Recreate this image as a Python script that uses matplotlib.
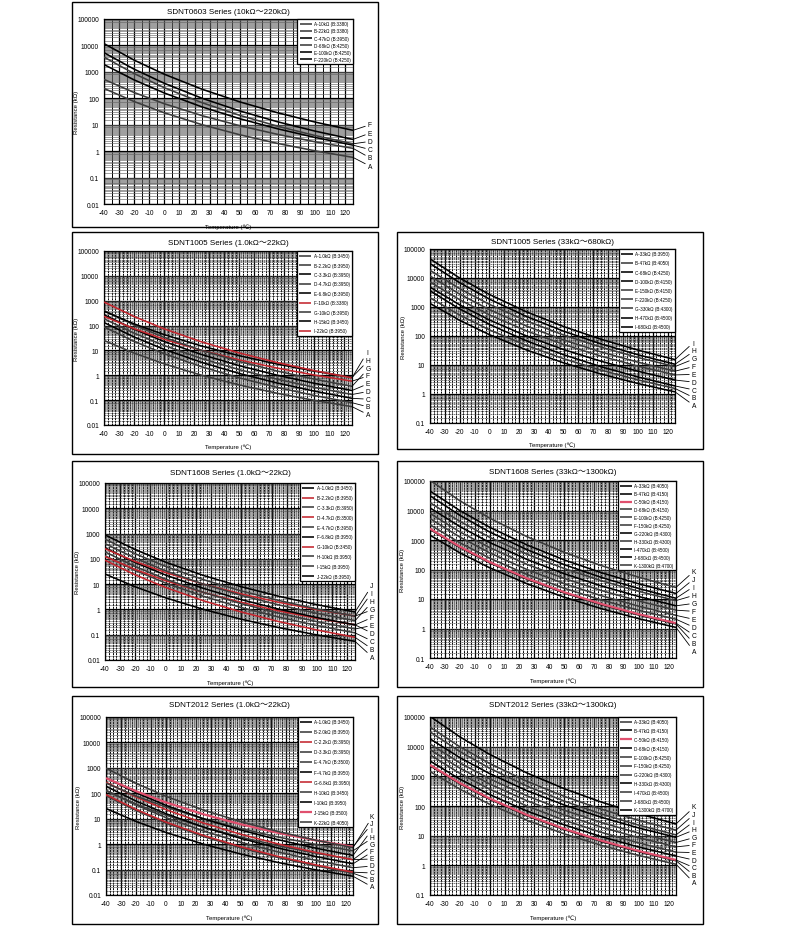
import numpy as np
import matplotlib
matplotlib.use('Agg')
import matplotlib.pyplot as plt
from matplotlib.ticker import FixedLocator, LogLocator, FuncFormatter, MultipleLocator, NullFormatter
from matplotlib.patches import Rectangle

plt.rcParams['font.family'] = ['Liberation Sans', 'DejaVu Sans', 'Noto Sans CJK SC']
plt.rcParams['axes.unicode_minus'] = False

# ---------------- data ----------------
TEMPS = [-40, -20, 0, 25, 50, 75, 100, 125]
# R/R25 ratio tables per B constant
RT_3380 = [23.58, 7.502, 2.822, 1.0, 0.4161, 0.1963, 0.1024, 0.0580]
RT_3450 = [25.18, 7.822, 2.884, 1.0, 0.4086, 0.1898, 0.09771, 0.05468]
RT_3500 = [26.38, 8.059, 2.928, 1.0, 0.4033, 0.1853, 0.09447, 0.05242]
RT_3950 = [40.18, 10.54, 3.362, 1.0, 0.3588, 0.1492, 0.06976, 0.03588]
RT_4050 = [44.12, 11.19, 3.467, 1.0, 0.3496, 0.1422, 0.06521, 0.03298]
RT_4150 = [48.45, 11.87, 3.575, 1.0, 0.3407, 0.1355, 0.06096, 0.03032]
RT_4250 = [53.20, 12.60, 3.686, 1.0, 0.3319, 0.1291, 0.05697, 0.02787]
RT_4300 = [55.75, 12.98, 3.743, 1.0, 0.3277, 0.1260, 0.05509, 0.02672]
RT_4500 = [67.21, 14.63, 3.981, 1.0, 0.3111, 0.1144, 0.04814, 0.02258]
RT_4700 = [81.03, 16.48, 4.233, 1.0, 0.2953, 0.1039, 0.04207, 0.01908]
RT = {3380: RT_3380, 3450: RT_3450, 3500: RT_3500, 3950: RT_3950, 4050: RT_4050,
      4150: RT_4150, 4250: RT_4250, 4300: RT_4300, 4500: RT_4500, 4700: RT_4700}

X_TICKS = list(range(-40, 121, 10))

P1_TITLE = "SDNT0603 Series (10kΩ～220kΩ)"
P1_NAMES = ["A-10kΩ (B:3380)", "B-22kΩ (B:3380)", "C-47kΩ (B:3950)", "D-68kΩ (B:4250)",
            "E-100kΩ (B:4250)", "F-220kΩ (B:4250)"]
P1_R25 = [10, 22, 47, 68, 100, 220]
P1_B = [3380, 3380, 3950, 4250, 4250, 4250]

P2_TITLE = "SDNT1005 Series (1.0kΩ～22kΩ)"
P2_NAMES = ["A-1.0kΩ (B:3450)", "B-2.2kΩ (B:3950)", "C-3.3kΩ (B:3950)", "D-4.7kΩ (B:3950)",
            "E-6.8kΩ (B:3950)", "F-10kΩ (B:3380)", "G-10kΩ (B:3950)", "H-15kΩ (B:3450)",
            "I-22kΩ (B:3950)"]
P2_R25 = [1.0, 2.2, 3.3, 4.7, 6.8, 10, 10, 15, 22]
P2_B = [3450, 3950, 3950, 3950, 3950, 3380, 3950, 3450, 3950]

P3_TITLE = "SDNT1005 Series (33kΩ～680kΩ)"
P3_NAMES = ["A-33kΩ (B:3950)", "B-47kΩ (B:4050)", "C-68kΩ (B:4250)", "D-100kΩ (B:4150)",
            "E-150kΩ (B:4150)", "F-220kΩ (B:4250)", "G-330kΩ (B:4300)", "H-470kΩ (B:4500)",
            "I-680kΩ (B:4500)"]
P3_R25 = [33, 47, 68, 100, 150, 220, 330, 470, 680]
P3_B = [3950, 4050, 4250, 4150, 4150, 4250, 4300, 4500, 4500]

P4_TITLE = "SDNT1608 Series (1.0kΩ～22kΩ)"
P4_NAMES = ["A-1.0kΩ (B:3450)", "B-2.2kΩ (B:3950)", "C-3.3kΩ (B:3950)", "D-4.7kΩ (B:3500)",
            "E-4.7kΩ (B:3950)", "F-6.8kΩ (B:3950)", "G-10kΩ (B:3450)", "H-10kΩ (B:3950)",
            "I-15kΩ (B:3950)", "J-22kΩ (B:3950)"]
P4_R25 = [1.0, 2.2, 3.3, 4.7, 4.7, 6.8, 10, 10, 15, 22]
P4_B = [3450, 3950, 3950, 3500, 3950, 3950, 3450, 3950, 3950, 3950]

P5_TITLE = "SDNT1608 Series (33kΩ～1300kΩ)"
P5_NAMES = ["A-33kΩ (B:4050)", "B-47kΩ (B:4150)", "C-50kΩ (B:4150)", "D-68kΩ (B:4150)",
            "E-100kΩ (B:4250)", "F-150kΩ (B:4250)", "G-220kΩ (B:4300)", "H-330kΩ (B:4300)",
            "I-470kΩ (B:4500)", "J-680kΩ (B:4500)", "K-1300kΩ (B:4700)"]
P5_R25 = [33, 47, 50, 68, 100, 150, 220, 330, 470, 680, 1300]
P5_B = [4050, 4150, 4150, 4150, 4250, 4250, 4300, 4300, 4500, 4500, 4700]

P6_TITLE = "SDNT2012 Series (1.0kΩ～22kΩ)"
P6_NAMES = ["A-1.0kΩ (B:3450)", "B-2.0kΩ (B:3950)", "C-2.2kΩ (B:3950)", "D-3.3kΩ (B:3950)",
            "E-4.7kΩ (B:3500)", "F-4.7kΩ (B:3950)", "G-6.8kΩ (B:3950)", "H-10kΩ (B:3450)",
            "I-10kΩ (B:3950)", "J-15kΩ (B:3500)", "K-22kΩ (B:4050)"]
P6_R25 = [1.0, 2.0, 2.2, 3.3, 4.7, 4.7, 6.8, 10, 10, 15, 22]
P6_B = [3450, 3950, 3950, 3950, 3500, 3950, 3950, 3450, 3950, 3500, 4050]

P7_TITLE = "SDNT2012 Series (33kΩ～1300kΩ)"
P7_NAMES = P5_NAMES
P7_R25 = P5_R25
P7_B = P5_B

# ---------------- styles ----------------
K = 'k'
G = '#3c3c3c'
R = '#c4262e'
PK = '#e0506e'
P1_COL = [G, G, K, G, K, K]
P2_COL = [G, G, K, G, K, R, G, K, R]
P3_COL = [K, G, K, K, G, G, G, K, K]
P4_COL = [K, R, G, R, G, K, R, G, G, K]
P5_COL = [K, K, PK, G, G, G, K, G, K, K, G]
P6_COL = [K, G, R, G, G, K, R, G, K, PK, G]
P7_COL = [G, K, PK, K, G, G, G, K, G, G, K]

W, H = 787, 928
fig = plt.figure(figsize=(W / 100, H / 100), dpi=100)
fig.patch.set_facecolor('white')


def fx(p):
    return p / W


def fy(p):
    return 1 - p / H


def fmt(v, pos):
    s = f"{v:.10f}".rstrip('0').rstrip('.')
    return s


def draw_panel(frame, box, title, title_y, names, r25, bs, cols, ylo,
               let_x, let_top, let_bot, lab_sp, dense):
    fl, ft, fr, fb = frame
    fig.add_artist(Rectangle((fx(fl), fy(fb)), (fr - fl) / W, (fb - ft) / H,
                             transform=fig.transFigure, fill=False, ec='k', lw=1.0))
    l, t, r, b = box
    ax = fig.add_axes([fx(l), fy(b), (r - l) / W, (b - t) / H])
    ax.set_yscale('log')
    ax.set_xlim(-40, 125)
    ax.set_ylim(ylo, 100000)
    ax.set_axisbelow(True)
    ends = []
    for name, rr, bb, c in zip(names, r25, bs, cols):
        vals = [rr * q for q in RT[bb]]
        lw = 1.6 if c == PK else 1.15
        ax.plot(TEMPS, vals, color=c, lw=lw, label=name, zorder=3, solid_capstyle='butt')
        ends.append(vals[-1])
    ax.xaxis.set_major_locator(FixedLocator(X_TICKS))
    ax.xaxis.set_minor_locator(MultipleLocator(2.5 if dense else 5))
    decades = [10.0 ** e for e in range(int(round(np.log10(ylo))), 6)]
    ax.yaxis.set_major_locator(FixedLocator(decades))
    ax.yaxis.set_major_formatter(FuncFormatter(fmt))
    ax.yaxis.set_minor_locator(LogLocator(base=10, subs=np.arange(1.5, 10, 0.5), numticks=200))
    ax.yaxis.set_minor_formatter(NullFormatter())
    ax.grid(which='major', color='k', lw=0.9)
    if dense:
        ax.grid(which='minor', axis='x', color='k', lw=0.7, ls=(0, (2.0, 0.8)))
        ax.grid(which='minor', axis='y', color='#444444', lw=0.5, ls=(0, (2.0, 0.8)))
    else:
        ax.grid(which='minor', axis='x', color='k', lw=0.7)
        ax.grid(which='minor', axis='y', color='#666666', lw=0.45)
    ax.tick_params(which='both', length=0, labelsize=4.8, pad=3.5)
    for s in ax.spines.values():
        s.set_linewidth(0.9)
    ax.set_xlabel("Temperature (℃)", fontsize=4.3)
    ax.set_ylabel("Resistance (kΩ)", fontsize=4.3)
    ax.yaxis.set_label_coords(-0.1, 0.5)
    ax.xaxis.set_label_coords(0.5, -0.108)
    fig.text((fx(l) + fx(r)) / 2, fy(title_y), title, ha='center', va='center', fontsize=5.8)
    leg = ax.legend(loc='upper right', bbox_to_anchor=(1.0, 1.0), borderaxespad=0.0,
                    fontsize=3.3, handlelength=2.6, handletextpad=0.5, borderpad=0.5,
                    labelspacing=lab_sp, fancybox=False, framealpha=1.0, edgecolor='k')
    leg.get_frame().set_linewidth(0.9)
    leg.set_zorder(5)
    n = len(names)
    for i, (name, v) in enumerate(zip(names, ends)):
        ly = let_bot - i * (let_bot - let_top) / (n - 1)
        ax.annotate(name[0], xy=(125, v), xycoords='data',
                    xytext=(fx(let_x), fy(ly)), textcoords='figure fraction',
                    fontsize=4.8, ha='left', va='center',
                    arrowprops=dict(arrowstyle='-', color='k', lw=0.6, shrinkA=0, shrinkB=0),
                    annotation_clip=False)
    return ax


draw_panel((72, 3, 378, 228), (104, 20, 353, 205), P1_TITLE, 13,
           P1_NAMES, P1_R25, P1_B, P1_COL, 0.01, 368, 125.7, 167.3, 0.46, False)
draw_panel((72, 233, 378, 455), (104, 252, 352, 426), P2_TITLE, 243.7,
           P2_NAMES, P2_R25, P2_B, P2_COL, 0.01, 366, 353.7, 415.7, 0.96, True)
draw_panel((397, 233, 703, 450), (430, 250, 675, 424), P3_TITLE, 243,
           P3_NAMES, P3_R25, P3_B, P3_COL, 0.1, 692, 344, 406.7, 0.9, True)
draw_panel((72, 462, 378, 688), (105, 484, 355, 661), P4_TITLE, 473.7,
           P4_NAMES, P4_R25, P4_B, P4_COL, 0.01, 370, 587, 658, 1.05, True)
draw_panel((397, 462, 703, 688), (430, 482, 676, 659), P5_TITLE, 472.7,
           P5_NAMES, P5_R25, P5_B, P5_COL, 0.1, 692, 572, 652.7, 0.64, True)
draw_panel((72, 697, 378, 925), (106, 718, 353, 896), P6_TITLE, 706,
           P6_NAMES, P6_R25, P6_B, P6_COL, 0.01, 370, 818, 888, 1.1, True)
draw_panel((397, 697, 703, 925), (430, 718, 676, 896), P7_TITLE, 706,
           P7_NAMES, P7_R25, P7_B, P7_COL, 0.1, 692, 808, 884, 0.83, True)

fig.savefig('out.png', dpi=100)
